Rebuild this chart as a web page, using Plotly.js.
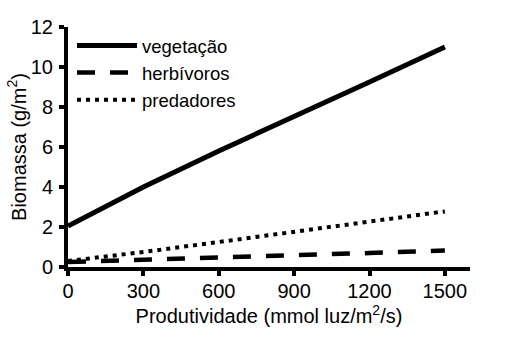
<!DOCTYPE html>
<html>
<head>
<meta charset="utf-8">
<script src="https://cdn.plot.ly/plotly-3.0.1.min.js"></script>
<style>html,body{margin:0;padding:0;background:#fff;}#chart{width:521px;height:353px;}</style>
</head>
<body>
<div id="chart"></div>
<script>
var productivity = [0, 150, 300, 600, 900, 1200, 1500];
var vegetacao    = [2.05, 3.05, 4.0, 5.8, 7.5, 9.25, 11.0];
var herbivoros   = [0.25, 0.3, 0.35, 0.45, 0.58, 0.7, 0.82];
var predadores   = [0.3, 0.5, 0.75, 1.25, 1.75, 2.25, 2.78];
var seriesNames  = ['vegetação', 'herbívoros', 'predadores'];
var xTickVals    = [0, 300, 600, 900, 1200, 1500];
var yTickVals    = [0, 2, 4, 6, 8, 10, 12];

var font = {family: 'Liberation Sans, Arial, sans-serif', color: '#000', size: 20};

var traces = [
  {x: productivity, y: vegetacao, name: seriesNames[0], mode: 'lines',
   line: {color: '#000', width: 5}},
  {x: productivity, y: herbivoros, name: seriesNames[1], mode: 'lines',
   line: {color: '#000', width: 4.5, dash: '18px,15px'}},
  {x: productivity, y: predadores, name: seriesNames[2], mode: 'lines',
   line: {color: '#000', width: 4, dash: '4px,5px'}}
];

var layout = {
  width: 521, height: 353,
  margin: {l: 68, r: 51, t: 27, b: 86, pad: 0},
  paper_bgcolor: '#fff', plot_bgcolor: '#fff',
  font: font,
  showlegend: true,
  legend: {x: 0.01, y: 1.0, xanchor: 'left', yanchor: 'top', bgcolor: 'rgba(0,0,0,0)',
           font: {family: font.family, size: 18.5, color: '#000'}, itemwidth: 60, borderwidth: 0},
  xaxis: {
    range: [0, 1600], tickvals: xTickVals, ticktext: xTickVals.map(String),
    showgrid: false, zeroline: false, showline: true, linecolor: '#000', linewidth: 4,
    ticks: 'outside', ticklen: 5, tickwidth: 4, tickcolor: '#000',
    tickfont: font, ticklabelstandoff: -2,
    title: {text: 'Produtividade (mmol luz/m<sup>2</sup>/s)', font: font, standoff: 9}
  },
  yaxis: {
    range: [0, 12], tickvals: yTickVals, ticktext: yTickVals.map(String),
    showgrid: false, zeroline: false, showline: true, linecolor: '#000', linewidth: 4,
    ticks: 'outside', ticklen: 5, tickwidth: 4, tickcolor: '#000',
    tickfont: font, ticklabelstandoff: 2,
    title: {text: 'Biomassa (g/m<sup>2</sup>)', font: font, standoff: 0}
  }
};

Plotly.newPlot('chart', traces, layout, {displayModeBar: false, staticPlot: true});
</script>
</body>
</html>
